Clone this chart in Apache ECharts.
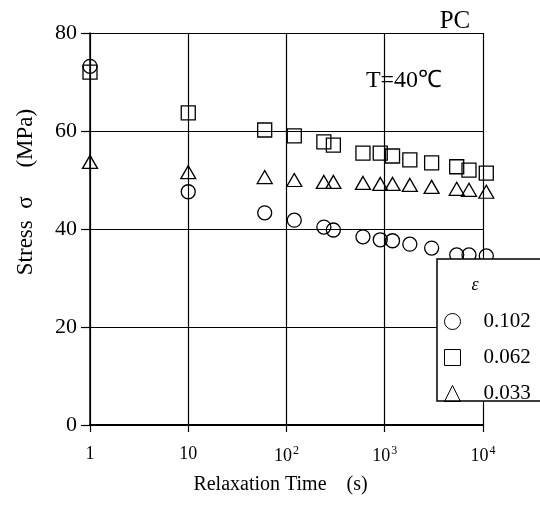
<!DOCTYPE html>
<html>
<head>
<meta charset="utf-8">
<script src="https://cdn.jsdelivr.net/npm/echarts@6/dist/echarts.min.js"></script>
<style>html,body{margin:0;padding:0;background:#fff;}#c{width:540px;height:509px;}</style>
</head>
<body>
<div id="c"></div>
<script>
var times = [1, 10, 60, 120, 240, 300, 600, 900, 1200, 1800, 3000, 5400, 7200, 10800];
var strain0102 = [73.2, 47.6, 43.3, 41.8, 40.4, 39.8, 38.4, 37.8, 37.6, 36.9, 36.1, 34.7, 34.7, 34.5];
var strain0062 = [72.0, 63.7, 60.2, 59.0, 57.8, 57.1, 55.5, 55.5, 54.9, 54.1, 53.5, 52.7, 52.0, 51.4];
var strain0033 = [53.7, 51.6, 50.6, 50.0, 49.6, 49.6, 49.4, 49.2, 49.2, 49.0, 48.6, 48.2, 48.0, 47.6];
var seriesNames = ['0.102', '0.062', '0.033'];
var yTicks = [0, 20, 40, 60, 80];

function pairs(vals) { return times.map(function (t, i) { return [t, vals[i]]; }); }
var serif = 'Liberation Serif';
var mk = function (name, sym, vals, size) {
  return {
    name: name, type: 'scatter', data: pairs(vals), symbol: sym, symbolSize: size, clip: false,
    itemStyle: { color: 'rgba(255,255,255,0)', borderColor: '#000', borderWidth: 1.3, opacity: 1 },
    emphasis: { disabled: true }
  };
};
var chart = echarts.init(document.getElementById('c'), null, { renderer: 'canvas' });
chart.setOption({
  animation: false,
  backgroundColor: '#fff',
  grid: { left: 90, right: 57, top: 33, bottom: 84, containLabel: false },
  xAxis: {
    type: 'log', logBase: 10, min: 1, max: 10000,
    name: 'Relaxation Time    (s)', nameLocation: 'middle', nameGap: 50,
    nameTextStyle: { fontFamily: serif, fontSize: 20, color: '#000', padding: [0, 12, 0, 0] },
    axisLine: { show: true, lineStyle: { color: '#000', width: 2 } },
    axisTick: { show: true, length: 7, lineStyle: { color: '#000', width: 1.2 } },
    minorTick: { show: false },
    splitLine: { show: true, lineStyle: { color: '#000', width: 1.2 } },
    axisLabel: {
      margin: 20, color: '#000', fontFamily: serif, fontSize: 18,
      formatter: function (v) {
        var e = Math.round(Math.log10(v));
        if (e === 0) return '{b|1}';
        if (e === 1) return '{b|10}';
        return '{b|10}{s|' + e + '}';
      },
      rich: {
        b: { fontFamily: serif, fontSize: 18, color: '#000', verticalAlign: 'bottom' },
        s: { fontFamily: serif, fontSize: 12, color: '#000', verticalAlign: 'bottom', padding: [0, 0, 8, 1] }
      }
    }
  },
  yAxis: {
    type: 'value', min: 0, max: 80, interval: 20,
    name: 'Stress  σ     (MPa)', nameLocation: 'middle', nameGap: 53,
    nameTextStyle: { fontFamily: serif, fontSize: 23, color: '#000', padding: [0, 0, 0, 74] },
    axisLine: { show: true, lineStyle: { color: '#000', width: 1.5 } },
    axisTick: { show: true, length: 9, lineStyle: { color: '#000', width: 1.2 } },
    splitLine: { show: true, lineStyle: { color: '#000', width: 1.2 } },
    axisLabel: {
      margin: 13, color: '#000', fontFamily: serif, fontSize: 22,
      formatter: function (v) { return yTicks.indexOf(v) >= 0 ? String(v) : ''; }
    }
  },
  legend: {
    orient: 'vertical', left: 444, top: 311, z: 200, padding: 0,
    data: seriesNames, itemWidth: 16, itemHeight: 16, itemGap: 15,
    itemStyle: { color: 'rgba(255,255,255,0)', borderColor: '#000', borderWidth: 1 },
    textStyle: { fontFamily: serif, fontSize: 21, color: '#000', padding: [0, 0, 0, 18] },
    selectedMode: false
  },
  graphic: [
    { type: 'rect', z: 100, shape: { x: 437, y: 259, width: 120, height: 142 },
      style: { fill: '#fff', stroke: '#000', lineWidth: 1.5 } },
    { type: 'text', z: 210, x: 475, y: 285,
      style: { text: 'ε', font: 'italic 18px "Liberation Serif"', fill: '#000', textAlign: 'center', textVerticalAlign: 'middle' } },
    { type: 'text', z: 210, x: 455, y: 21,
      style: { text: 'PC', font: '25px "Liberation Serif"', fill: '#000', textAlign: 'center', textVerticalAlign: 'middle' } },
    { type: 'text', z: 210, x: 404, y: 81,
      style: { text: 'T=40℃', font: '24px "Liberation Serif"', fill: '#000', textAlign: 'center', textVerticalAlign: 'middle' } }
  ],
  series: [
    mk(seriesNames[0], 'circle', strain0102, 14),
    mk(seriesNames[1], 'rect', strain0062, 14),
    mk(seriesNames[2], 'triangle', strain0033, [15, 13])
  ]
});
</script>
</body>
</html>
